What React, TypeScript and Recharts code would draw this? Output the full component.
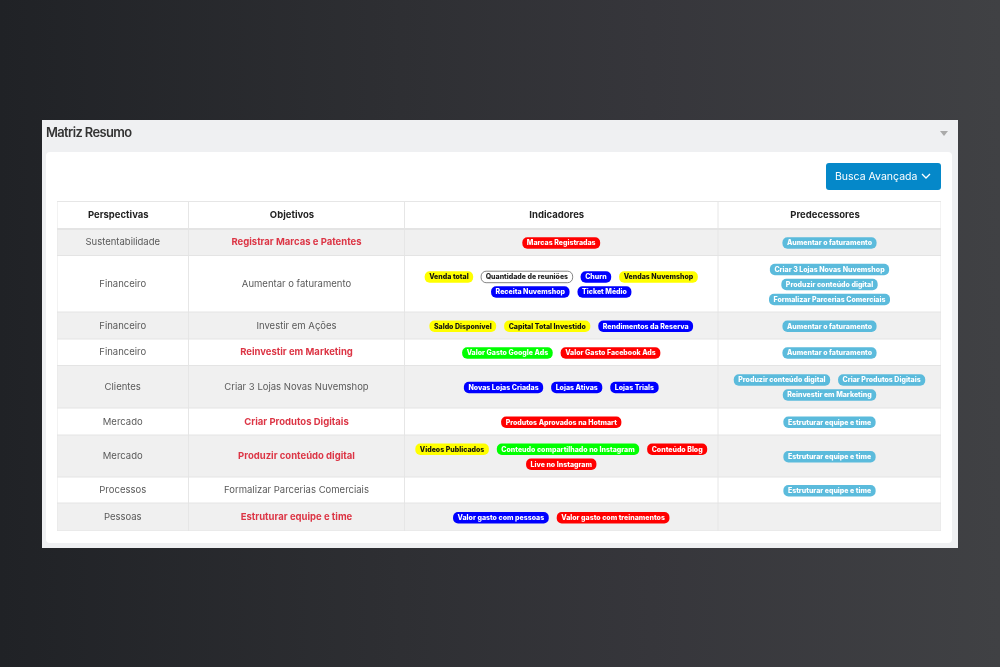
import { ScatterChart, Scatter, XAxis, YAxis, ReferenceArea, ReferenceLine } from 'recharts'

// table content, one entry per row
const perspectivas = ['Sustentabilidade', 'Financeiro', 'Financeiro', 'Financeiro', 'Clientes', 'Mercado', 'Mercado', 'Processos', 'Pessoas']
const objetivos = [
  'Registrar Marcas e Patentes', 'Aumentar o faturamento', 'Investir em Ações', 'Reinvestir em Marketing',
  'Criar 3 Lojas Novas Nuvemshop', 'Criar Produtos Digitais', 'Produzir conteúdo digital',
  'Formalizar Parcerias Comerciais', 'Estruturar equipe e time',
]
const atrasados = [true, false, false, true, false, true, true, false, true]
const cabecalhos = ['Perspectivas', 'Objetivos', 'Indicadores', 'Predecessores']
const indicadores: [string, string][][] = [
  [['Marcas Registradas', 'vermelho']],
  [['Venda total', 'amarelo'], ['Quantidade de reuniões', 'contorno'], ['Churn', 'azul'], ['Vendas Nuvemshop', 'amarelo'], ['Receita Nuvemshop', 'azul'], ['Ticket Médio', 'azul']],
  [['Saldo Disponível', 'amarelo'], ['Capital Total Investido', 'amarelo'], ['Rendimentos da Reserva', 'azul']],
  [['Valor Gasto Google Ads', 'verde'], ['Valor Gasto Facebook Ads', 'vermelho']],
  [['Novas Lojas Criadas', 'azul'], ['Lojas Ativas', 'azul'], ['Lojas Trials', 'azul']],
  [['Produtos Aprovados na Hotmart', 'vermelho']],
  [['Vídeos Publicados', 'amarelo'], ['Conteudo compartilhado no Instagram', 'verde'], ['Conteúdo Blog', 'vermelho'], ['Live no Instagram', 'vermelho']],
  [],
  [['Valor gasto com pessoas', 'azul'], ['Valor gasto com treinamentos', 'vermelho']],
]
const predecessores: string[][] = [
  ['Aumentar o faturamento'],
  ['Criar 3 Lojas Novas Nuvemshop', 'Produzir conteúdo digital', 'Formalizar Parcerias Comerciais'],
  ['Aumentar o faturamento'],
  ['Aumentar o faturamento'],
  ['Produzir conteúdo digital', 'Criar Produtos Digitais', 'Reinvestir em Marketing'],
  ['Estruturar equipe e time'],
  ['Estruturar equipe e time'],
  ['Estruturar equipe e time'],
  [],
]

// layout of the table, in px from its top left corner
const W = 884
const H = 330
const colEdges = [0, 131.5, 347.5, 661, 884]
const rowEdges = [28, 54.5, 111, 138, 164.5, 207, 234, 276, 302, 330]

const FONT = 'Inter, sans-serif'
const BADGE: Record<string, { bg: string; fg: string; stroke?: string }> = {
  vermelho: { bg: '#ff0000', fg: '#ffffff' },
  amarelo: { bg: '#ffff00', fg: '#111111' },
  azul: { bg: '#0000ff', fg: '#ffffff' },
  verde: { bg: '#00ff00', fg: '#ffffff' },
  contorno: { bg: '#ffffff', fg: '#222222', stroke: '#666666' },
  info: { bg: '#5bbbdc', fg: '#ffffff' },
}

const ctx = document.createElement('canvas').getContext('2d')!
function badgeWidth(text: string) {
  ctx.font = `800 7px ${FONT}`
  return ctx.measureText(text).width + 9
}

function wrap(items: [string, string][], maxW: number) {
  const lines: { text: string; kind: string; w: number }[][] = []
  let used = 0
  items.forEach(([text, kind]) => {
    const w = badgeWidth(text)
    if (!lines.length || used + w + 8 > maxW) {
      lines.push([])
      used = -8
    }
    lines[lines.length - 1].push({ text, kind, w })
    used += w + 8
  })
  return lines
}

function BadgeCell({ cx, cy, payload }: any) {
  const lines = wrap(payload.badges, payload.maxW)
  const top = cy - (lines.length * 15) / 2 + 8.2
  return (
    <g>
      {lines.map((line, i) => {
        const total = line.reduce((s, b) => s + b.w + 8, -8)
        let x = cx - total / 2
        return line.map(b => {
          const st = BADGE[b.kind]
          const left = x
          x += b.w + 8
          return (
            <g key={b.text}>
              <rect x={left} y={top + i * 15 - 5.75} width={b.w} height={11.5} rx={5} fill={st.bg} stroke={st.stroke} strokeWidth={st.stroke ? 0.8 : 0} />
              <text x={left + b.w / 2} y={top + i * 15 + 2.5} textAnchor="middle" fontSize={7} fontWeight={800} fontFamily={FONT} fill={st.fg}>{b.text}</text>
            </g>
          )
        })
      })}
    </g>
  )
}

function TextCell({ cx, cy, payload }: any) {
  return (
    <text x={cx} y={cy + 3} textAnchor="middle" fontFamily={FONT} fontSize={payload.size} fontWeight={payload.weight} fill={payload.color}>
      {payload.text}
    </text>
  )
}

const mid = (edges: number[], i: number) => (edges[i] + edges[i + 1]) / 2

// header labels sit a bit left of the column centre, room kept for the sort icon
const headerCells = cabecalhos.map((text, i) => ({ x: mid(colEdges, i) - 4.5, y: 13.5, text, size: 9.5, weight: 700, color: '#222222' }))
const perspCells = perspectivas.map((text, i) => ({ x: mid(colEdges, 0), y: mid(rowEdges, i), text, size: 9.5, weight: 400, color: '#5a5a5a' }))
const objCells = objetivos.map((text, i) => ({
  x: mid(colEdges, 1), y: mid(rowEdges, i), text, size: 9.5,
  weight: atrasados[i] ? 700 : 400, color: atrasados[i] ? '#dc3545' : '#5a5a5a',
}))
const indCells = indicadores.map((badges, i) => ({ x: mid(colEdges, 2), y: mid(rowEdges, i), badges, maxW: 300 }))
const predCells = predecessores.map((names, i) => ({
  x: mid(colEdges, 3), y: mid(rowEdges, i), badges: names.map(n => [n, 'info']), maxW: 205,
}))

export default function App() {
  return (
    <div style={{ position: 'fixed', inset: 0, overflow: 'hidden', fontFamily: FONT, background: 'linear-gradient(90deg, #202226 0%, #2e2f33 40%, #36363b 65%, #404144 100%)' }}>
      {/* outer panel */}
      <div style={{ position: 'absolute', inset: 0, filter: 'blur(0.3px)' }}>
        <div style={{ position: 'absolute', left: 42, top: 120, width: 916, height: 428, background: '#eff0f2' }} />
        <div style={{ position: 'absolute', left: 46, top: 125, fontSize: 12.9, fontWeight: 600, color: '#333', letterSpacing: -0.6 }}>Matriz Resumo</div>
        <div style={{ position: 'absolute', left: 940, top: 131, width: 0, height: 0, borderLeft: '4px solid transparent', borderRight: '4px solid transparent', borderTop: '5px solid #aaa' }} />
        <div style={{ position: 'absolute', left: 46, top: 152, width: 906, height: 391, background: '#fff', borderRadius: 4 }} />
        <div style={{ position: 'absolute', left: 826, top: 163, width: 115, height: 27, boxSizing: 'border-box', background: '#0588c9', borderRadius: 3, color: '#fff', fontSize: 10.5, lineHeight: '27px', paddingLeft: 9, whiteSpace: 'nowrap' }}>
          Busca Avançada
          <svg width="10" height="7" style={{ marginLeft: 4 }}><path d="M1 1 L5 5 L9 1" stroke="#fff" strokeWidth="1.3" fill="none" /></svg>
        </div>

        <div style={{ position: 'absolute', left: 57, top: 201 }}>
          <ScatterChart width={W} height={H} margin={{ top: 0, right: 0, bottom: 0, left: 0 }}>
            <XAxis type="number" dataKey="x" domain={[0, W]} hide />
            <YAxis type="number" dataKey="y" domain={[0, H]} reversed hide />
            {perspectivas.map((p, i) => i % 2 === 0 && (
              <ReferenceArea key={i} x1={0} x2={W} y1={rowEdges[i]} y2={rowEdges[i + 1]} fill="#f0f0f0" fillOpacity={1} stroke="none" />
            ))}
            {colEdges.map(x => <ReferenceLine key={x} x={x} stroke="#e6e6e6" strokeWidth={1} />)}
            <ReferenceLine y={0.5} stroke="#e6e6e6" />
            {rowEdges.map((y, i) => <ReferenceLine key={y} y={y} stroke="#e4e4e4" strokeWidth={i === 0 ? 2 : 1} />)}
            <Scatter data={headerCells} shape={TextCell} isAnimationActive={false} />
            <Scatter data={perspCells} shape={TextCell} isAnimationActive={false} />
            <Scatter data={objCells} shape={TextCell} isAnimationActive={false} />
            <Scatter data={indCells} shape={BadgeCell} isAnimationActive={false} />
            <Scatter data={predCells} shape={BadgeCell} isAnimationActive={false} />
          </ScatterChart>
        </div>
      </div>
    </div>
  )
}
